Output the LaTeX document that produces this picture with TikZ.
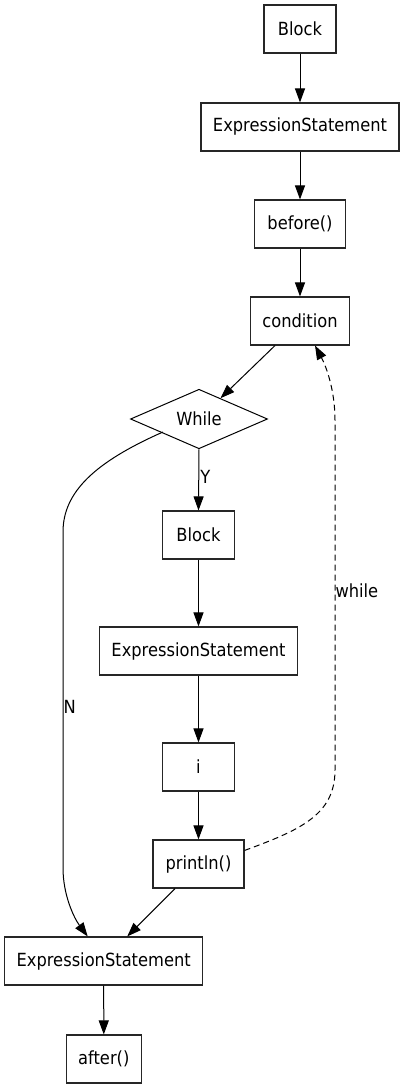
\documentclass[tikz,border=0pt]{standalone}
\usepackage{fontspec}
\setmainfont{DejaVu Sans Condensed}
\usetikzlibrary{arrows.meta,shapes.geometric,calc}
\begin{document}
\begin{tikzpicture}[x=1pt,y=-1pt,
  font=\fontsize{18.1}{20}\selectfont,
  box/.style={draw=black!85, line width=1.1pt, inner sep=0pt, minimum height=48pt},
  dec/.style={draw, diamond, line width=1pt, inner sep=0pt, minimum width=137pt, minimum height=47pt},
  arr/.style={-{Triangle[length=14pt,width=10pt]}, line width=1pt},
  lbl/.style={inner sep=1pt}]
\useasboundingbox (0,0) rectangle (404,1088);
\node[box, minimum width=72pt] (b1) at (300,29) {Block};
\node[box, minimum width=198pt] (es1) at (300,127) {ExpressionStatement};
\node[box, minimum width=91pt] (bef) at (300,224) {before()};
\node[box, minimum width=99pt] (cond) at (300,321) {condition};
\node[dec] (wh) at (199,419) {While};
\node[box, minimum width=72pt] (b2) at (198.5,535) {Block};
\node[box, minimum width=198pt] (es2) at (198.5,651) {ExpressionStatement};
\node[box, minimum width=72pt] (iv) at (198.5,767) {i};
\node[box, minimum width=91pt] (pln) at (198.5,864) {println()};
\node[box, minimum width=198pt] (es3) at (103.7,961) {ExpressionStatement};
\node[box, minimum width=75pt] (aft) at (103.8,1059) {after()};

\draw[arr] (b1) -- (es1);
\draw[arr] (es1) -- (bef);
\draw[arr] (bef) -- (cond);
\coordinate (cs) at ($(cond.south)+(-25,0)$);
\draw[arr] (cs) -- (wh);
\draw[arr] (wh.south) -- node[lbl, right, pos=0.45] {Y} (b2.north);
\draw[arr] (b2) -- (es2);
\draw[arr] (es2) -- (iv);
\draw[arr] (iv) -- (pln);
\coordinate (ps) at ($(pln.south)+(-23.5,0)$);
\coordinate (et) at ($(es3.north)+(23.5,0)$);
\draw[arr] (ps) -- (et);
\draw[arr] (es3) -- (aft);
\coordinate (ws) at (163,432);
\coordinate (et2) at ($(es3.north)+(-16,0)$);
\draw[arr] (ws) .. controls (95,462) and (63,492) .. (63,532)
  -- node[lbl, right, inner sep=0pt, pos=0.52] {N} (63,868)
  .. controls (63,895) and (74,918) .. (et2);
\coordinate (pe) at ($(pln.north east)+(0,11)$);
\coordinate (ct) at ($(cond.south)+(15,0)$);
\draw[arr, dashed, dash pattern=on 6pt off 4pt] (pe) .. controls (300,830) and (335,815) .. (335,770)
  -- node[lbl, right, inner sep=0pt, pos=0.511] {while} (335,420)
  .. controls (335,390) and (326,366) .. (ct);
\end{tikzpicture}
\end{document}
